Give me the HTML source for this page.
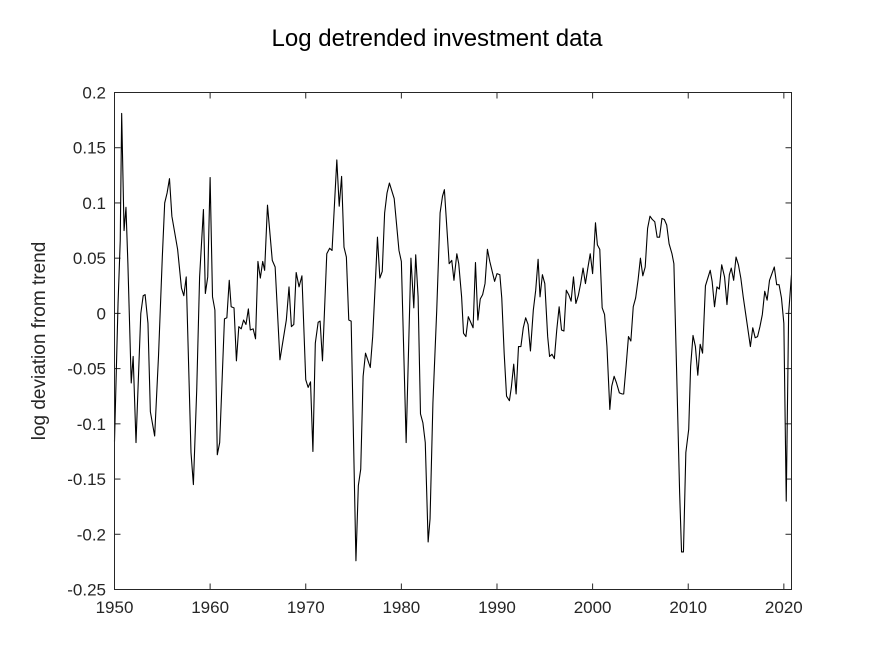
<!DOCTYPE html>
<html><head><meta charset="utf-8"><style>
body{margin:0;background:#fff;}
svg{display:block;font-family:"Liberation Sans",Arial,sans-serif;}
</style></head><body>
<svg id="chart" width="875" height="656" viewBox="0 0 875 656" xmlns="http://www.w3.org/2000/svg">
<rect width="875" height="656" fill="#fff"/>
<text x="437" y="46" font-size="24" text-anchor="middle" fill="#000">Log detrended investment data</text>
<text transform="translate(45,341) rotate(-90)" font-size="19" text-anchor="middle" fill="#262626">log deviation from trend</text>
<g id="ticks"></g>
<path id="series" fill="none" stroke="#000" stroke-width="1.1" stroke-linejoin="round"/>
<rect x="114.5" y="92.5" width="677" height="497" fill="none" stroke="#262626" stroke-width="1"/>
</svg>
<script>
const xTicks=[1950,1960,1970,1980,1990,2000,2010,2020];
const yTicks=[0.2,0.15,0.1,0.05,0,-0.05,-0.1,-0.15,-0.2,-0.25];
const yTickLabels=["0.2","0.15","0.1","0.05","0","-0.05","-0.1","-0.15","-0.2","-0.25"];
const years=[1950.0,1950.37,1950.6,1950.75,1951.0,1951.2,1951.4,1951.75,1951.95,1952.25,1952.75,1953.0,1953.2,1953.5,1953.75,1954.2,1954.6,1955.0,1955.25,1955.5,1955.75,1956.0,1956.6,1957.0,1957.25,1957.5,1958.0,1958.25,1958.6,1958.9,1959.3,1959.5,1959.75,1960.0,1960.25,1960.5,1960.75,1961.0,1961.5,1961.75,1962.0,1962.2,1962.5,1962.75,1963.0,1963.25,1963.5,1963.75,1964.0,1964.2,1964.5,1964.75,1965.0,1965.25,1965.5,1965.7,1966.0,1966.5,1966.8,1967.3,1967.97,1968.25,1968.5,1968.75,1969.0,1969.3,1969.6,1970.0,1970.25,1970.5,1970.75,1971.0,1971.3,1971.5,1971.75,1972.2,1972.5,1972.75,1973.25,1973.5,1973.75,1974.0,1974.25,1974.5,1974.75,1975.25,1975.5,1975.75,1976.0,1976.25,1976.75,1977.0,1977.3,1977.5,1977.75,1978.0,1978.25,1978.5,1978.75,1979.25,1979.75,1980.0,1980.5,1981.0,1981.3,1981.5,1981.75,1982.0,1982.25,1982.5,1982.8,1983.0,1983.3,1983.7,1984.05,1984.3,1984.5,1985.0,1985.27,1985.5,1985.8,1986.0,1986.3,1986.5,1986.75,1987.0,1987.5,1987.75,1988.0,1988.25,1988.5,1988.75,1989.0,1989.25,1989.75,1990.0,1990.3,1990.5,1990.75,1991.0,1991.3,1991.5,1991.75,1992.0,1992.25,1992.5,1992.75,1993.0,1993.25,1993.5,1993.8,1994.05,1994.3,1994.5,1994.75,1995.0,1995.3,1995.5,1995.75,1996.0,1996.25,1996.5,1996.75,1997.0,1997.25,1997.5,1997.75,1998.0,1998.25,1998.5,1998.75,1999.0,1999.25,1999.5,1999.75,2000.0,2000.3,2000.5,2000.75,2001.0,2001.25,2001.5,2001.8,2002.0,2002.25,2002.5,2002.8,2003.1,2003.25,2003.5,2003.75,2004.0,2004.25,2004.5,2004.75,2005.0,2005.25,2005.5,2005.75,2006.0,2006.25,2006.5,2006.75,2007.0,2007.25,2007.5,2007.75,2008.0,2008.3,2008.5,2008.8,2009.1,2009.3,2009.5,2009.75,2010.05,2010.25,2010.5,2010.75,2011.0,2011.25,2011.5,2011.8,2012.05,2012.3,2012.5,2012.75,2013.0,2013.25,2013.5,2013.8,2014.05,2014.3,2014.5,2014.75,2015.0,2015.25,2015.5,2015.75,2016.0,2016.25,2016.5,2016.75,2017.0,2017.25,2017.5,2017.75,2018.0,2018.25,2018.5,2018.75,2019.0,2019.25,2019.5,2019.75,2020.0,2020.25,2020.5,2020.8];
const values=[-0.116,0.009,0.066,0.181,0.075,0.096,0.045,-0.063,-0.039,-0.117,0,0.016,0.017,-0.009,-0.089,-0.111,-0.039,0.051,0.1,0.109,0.122,0.088,0.058,0.023,0.016,0.033,-0.126,-0.155,-0.069,0.033,0.094,0.018,0.033,0.123,0.015,0.003,-0.128,-0.117,-0.005,-0.004,0.030,0.006,0.005,-0.043,-0.012,-0.014,-0.006,-0.010,0.004,-0.015,-0.014,-0.023,0.047,0.032,0.047,0.039,0.098,0.048,0.042,-0.042,-0.006,0.024,-0.012,-0.010,0.037,0.024,0.034,-0.060,-0.067,-0.062,-0.125,-0.027,-0.008,-0.007,-0.043,0.054,0.059,0.057,0.139,0.097,0.124,0.060,0.051,-0.006,-0.007,-0.224,-0.156,-0.141,-0.057,-0.036,-0.049,-0.021,0.032,0.069,0.032,0.038,0.091,0.109,0.118,0.104,0.057,0.047,-0.117,0.050,0.005,0.053,0.015,-0.091,-0.099,-0.117,-0.207,-0.186,-0.081,0.003,0.091,0.106,0.112,0.045,0.048,0.030,0.054,0.045,0.015,-0.018,-0.021,-0.003,-0.013,0.046,-0.006,0.013,0.017,0.027,0.058,0.047,0.029,0.036,0.035,0.014,-0.036,-0.075,-0.079,-0.067,-0.046,-0.073,-0.030,-0.030,-0.013,-0.004,-0.010,-0.034,0.003,0.021,0.049,0.015,0.035,0.027,-0.021,-0.039,-0.037,-0.041,-0.015,0.006,-0.015,-0.016,0.021,0.017,0.011,0.033,0.009,0.016,0.027,0.041,0.027,0.041,0.054,0.036,0.082,0.062,0.058,0.005,-0.001,-0.030,-0.087,-0.066,-0.057,-0.063,-0.072,-0.073,-0.073,-0.048,-0.021,-0.025,0.006,0.014,0.030,0.050,0.034,0.042,0.077,0.088,0.085,0.083,0.069,0.069,0.086,0.085,0.080,0.063,0.054,0.045,-0.057,-0.162,-0.216,-0.216,-0.126,-0.105,-0.048,-0.020,-0.030,-0.056,-0.028,-0.036,0.025,0.032,0.039,0.029,0.006,0.024,0.022,0.044,0.033,0.008,0.035,0.041,0.030,0.051,0.044,0.032,0.015,0.000,-0.015,-0.030,-0.013,-0.022,-0.021,-0.012,-0.001,0.020,0.012,0.030,0.036,0.042,0.026,0.026,0.014,-0.009,-0.170,0.000,0.035];

const X0=114.5,X1=791.5,Y0=92.5,Y1=589.5;
const xMin=1950,xMax=2020.8,yMin=-0.25,yMax=0.2;
function xs(v){return X0+(v-xMin)/(xMax-xMin)*(X1-X0);}
function ys(v){return Y1-(v-yMin)/(yMax-yMin)*(Y1-Y0);}
const NS="http://www.w3.org/2000/svg";
const g=document.getElementById('ticks');
function mk(tag,attrs){const e=document.createElementNS(NS,tag);for(const k in attrs)e.setAttribute(k,attrs[k]);return e;}
xTicks.forEach(t=>{
  const x=xs(t);
  const l1=mk('line',{x1:x,x2:x,y1:Y1,y2:Y1-6,stroke:'#262626'});
  
  
  g.appendChild(l1);
  const l2=mk('line',{x1:x,x2:x,y1:Y0,y2:Y0+6,stroke:'#262626'});
  
  
  g.appendChild(l2);
  const tx=mk('text',{x:x,y:613,'font-size':17,'text-anchor':'middle',fill:'#262626'});
  tx.textContent=String(t);
  
  
  g.appendChild(tx);
});
yTicks.forEach((t,i)=>{
  const y=ys(t);
  const l1=mk('line',{x1:X0,x2:X0+6,y1:y,y2:y,stroke:'#262626'});
  
  
  g.appendChild(l1);
  const l2=mk('line',{x1:X1,x2:X1-6,y1:y,y2:y,stroke:'#262626'});
  
  
  g.appendChild(l2);
  const tx=mk('text',{x:106,y:y+6,'font-size':17,'text-anchor':'end',fill:'#262626'});
  tx.textContent=yTickLabels[i];
  
  
  g.appendChild(tx);
});
let d='';
years.forEach((yr,i)=>{d+=(i?'L':'M')+xs(yr).toFixed(2)+','+ys(values[i]).toFixed(2);});
document.getElementById('series').setAttribute('d',d);
</script>
</body></html>
